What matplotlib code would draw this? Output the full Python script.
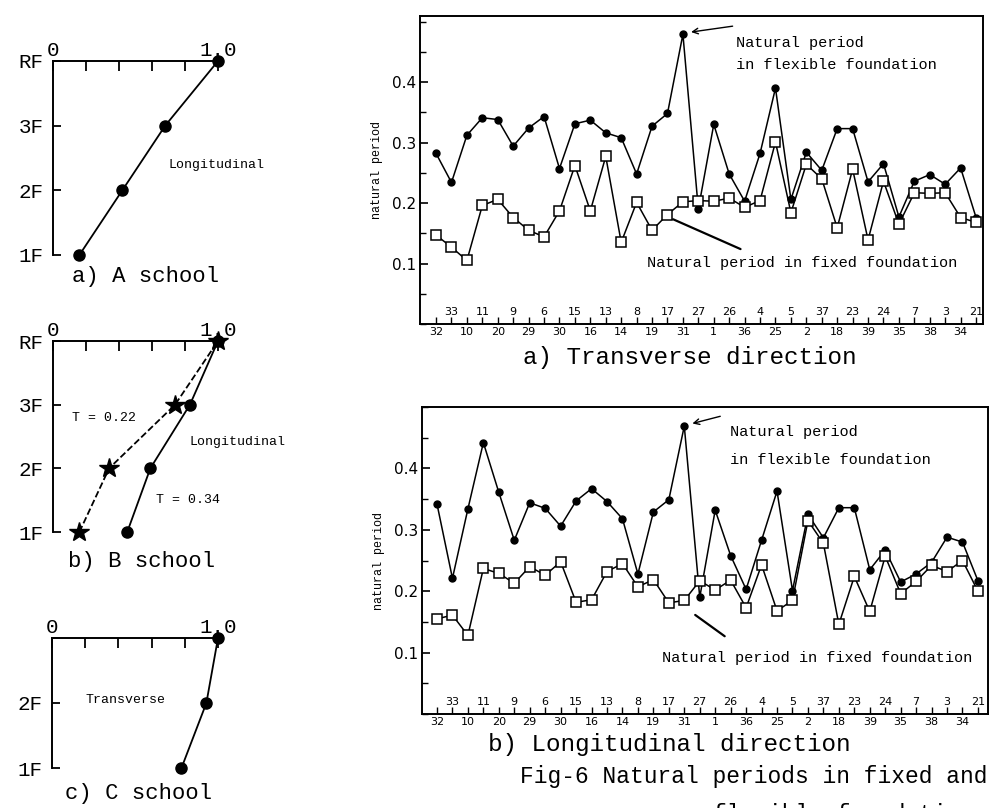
import numpy as np
import matplotlib
matplotlib.use('Agg')
import matplotlib.pyplot as plt
from matplotlib.ticker import MultipleLocator

W, H = 991, 808
MONO = ['Liberation Mono', 'DejaVu Sans Mono']

# ---------------- data ----------------
buildings = ['32', '33', '10', '11', '20', '9', '29', '6', '30', '15', '16', '13',
             '14', '8', '19', '17', '31', '27', '1', '26', '36', '4', '25', '5',
             '2', '37', '18', '23', '39', '24', '35', '7', '38', '3', '34', '21']

trans_flexible = [0.282, 0.234, 0.312, 0.341, 0.338, 0.294, 0.324, 0.343, 0.257,
                  0.331, 0.337, 0.316, 0.308, 0.248, 0.327, 0.348, 0.479, 0.190,
                  0.330, 0.248, 0.203, 0.282, 0.390, 0.206, 0.284, 0.254, 0.323,
                  0.323, 0.235, 0.265, 0.177, 0.236, 0.247, 0.231, 0.258, 0.176]
trans_fixed = [0.147, 0.127, 0.105, 0.196, 0.206, 0.176, 0.155, 0.144, 0.187,
               0.262, 0.187, 0.277, 0.135, 0.201, 0.155, 0.181, 0.202, 0.204,
               0.203, 0.208, 0.193, 0.204, 0.301, 0.184, 0.264, 0.240, 0.159,
               0.256, 0.139, 0.236, 0.165, 0.217, 0.216, 0.217, 0.176, 0.168]

long_flexible = [0.342, 0.221, 0.334, 0.442, 0.361, 0.283, 0.344, 0.335, 0.306,
                 0.347, 0.367, 0.346, 0.318, 0.228, 0.329, 0.349, 0.469, 0.190,
                 0.332, 0.258, 0.203, 0.283, 0.363, 0.201, 0.325, 0.287, 0.336,
                 0.336, 0.235, 0.267, 0.215, 0.228, 0.247, 0.288, 0.280, 0.217]
long_fixed = [0.155, 0.161, 0.128, 0.237, 0.229, 0.213, 0.240, 0.226, 0.248,
              0.182, 0.186, 0.232, 0.245, 0.207, 0.219, 0.181, 0.185, 0.217,
              0.202, 0.218, 0.173, 0.243, 0.168, 0.185, 0.315, 0.278, 0.146,
              0.224, 0.167, 0.257, 0.196, 0.216, 0.242, 0.232, 0.250, 0.200]

floors_4 = [1, 2, 3, 4]
floor_labels_4 = ['1F', '2F', '3F', 'RF']
a_mode = [0.16, 0.42, 0.68, 1.0]
b_mode_flexible = [0.45, 0.59, 0.83, 1.0]
b_mode_fixed = [0.16, 0.34, 0.74, 1.0]
floors_3 = [1, 2, 3]
floor_labels_3 = ['1F', '2F', '']
c_mode = [0.78, 0.93, 1.0]
mode_ticks = [0, 0.2, 0.4, 0.6, 0.8, 1.0]
mode_tick_labels = ['0', '', '', '', '', '1.0']

fig = plt.figure(figsize=(W / 100, H / 100), dpi=100)


def rect(l, t, r, b):
    return [l / W, 1 - b / H, (r - l) / W, (b - t) / H]


def mode_panel(r, levels, labels):
    ax = fig.add_axes(r)
    ax.set_xlim(0, 1)
    ax.set_ylim(levels[0], levels[-1])
    for s in ['right', 'bottom']:
        ax.spines[s].set_visible(False)
    for s in ['left', 'top']:
        ax.spines[s].set_linewidth(1.4)
    ax.xaxis.tick_top()
    ax.set_xticks(mode_ticks)
    ax.set_xticklabels(mode_tick_labels, family=MONO, fontsize=15)
    ax.tick_params(axis='x', direction='in', length=7, width=1.3, pad=1)
    ax.set_yticks(levels)
    ax.set_yticklabels(labels, family=MONO, fontsize=15)
    ax.tick_params(axis='y', direction='in', length=6, width=1.3, pad=7)
    return ax


# a) A school
axa = mode_panel(rect(53, 61, 218, 255), floors_4, floor_labels_4)
axa.plot(a_mode, floors_4, '-o', color='black', lw=1.3, ms=8, clip_on=False)
axa.text(0.70, 2.39, 'Longitudinal', family=MONO, fontsize=9.5, va='center')
fig.text(72 / W, 1 - 276 / H, 'a) A school', family=MONO, fontsize=16, va='center')

# b) B school
axb = mode_panel(rect(53, 341, 218, 532), floors_4, floor_labels_4)
axb.plot(b_mode_fixed, floors_4, '--*', color='black', lw=1.3, ms=15, clip_on=False)
axb.plot(b_mode_flexible, floors_4, '-o', color='black', lw=1.3, ms=8, clip_on=False)
axb.text(0.115, 2.79, 'T = 0.22', family=MONO, fontsize=9.5, va='center')
axb.text(0.825, 2.41, 'Longitudinal', family=MONO, fontsize=9.5, va='center')
axb.text(0.625, 1.50, 'T = 0.34', family=MONO, fontsize=9.5, va='center')
fig.text(68 / W, 1 - 562 / H, 'b) B school', family=MONO, fontsize=16, va='center')

# c) C school
axc = mode_panel(rect(52, 638, 218, 768), floors_3, floor_labels_3)
axc.plot(c_mode, floors_3, '-o', color='black', lw=1.3, ms=8, clip_on=False)
axc.text(0.20, 2.05, 'Transverse', family=MONO, fontsize=9.5, va='center')
fig.text(65 / W, 1 - 793 / H, 'c) C school', family=MONO, fontsize=16, va='center')


def period_chart(r, xlim, ylim, flex, fixed):
    ax = fig.add_axes(r)
    x = np.arange(len(buildings))
    ax.plot(x, flex, '-o', color='black', lw=1.1, ms=5)
    ax.plot(x, fixed, '-s', color='black', mfc='white', mec='black', mew=1.1,
            lw=1.1, ms=7.5)
    ax.set_xlim(*xlim)
    ax.set_ylim(*ylim)
    for s in ax.spines.values():
        s.set_linewidth(1.4)
    ax.set_yticks([0.1, 0.2, 0.3, 0.4])
    ax.set_yticklabels(['0.1', '0.2', '0.3', '0.4'], fontsize=11)
    ax.yaxis.set_minor_locator(MultipleLocator(0.05))
    ax.tick_params(axis='y', which='major', direction='in', length=6, width=1.2, pad=3)
    ax.tick_params(axis='y', which='minor', direction='in', length=4, width=1.0)
    ax.set_xticks(x)
    ax.set_xticklabels([b if i % 2 == 0 else '' for i, b in enumerate(buildings)],
                       fontsize=8)
    ax.tick_params(axis='x', direction='in', length=5, width=1.0, pad=2)
    for i, b in enumerate(buildings):
        if i % 2 == 1:
            ax.text(i, 0.038, b, transform=ax.get_xaxis_transform(),
                    ha='center', va='center', fontsize=8)
    ax.set_ylabel('natural period', family=MONO, fontsize=8.5)
    ax.yaxis.set_label_coords(-0.066, 0.5)
    return ax


# a) Transverse direction
ax1 = period_chart(rect(420, 15.5, 983, 324), (-1.04, 35.45), (0, 0.51),
                   trans_flexible, trans_fixed)
ax1.text(19.44, 0.464, 'Natural period', family=MONO, fontsize=11, va='center')
ax1.text(19.44, 0.428, 'in flexible foundation', family=MONO, fontsize=11, va='center')
ax1.annotate('', xy=(16.35, 0.482), xytext=(19.4, 0.493),
             arrowprops=dict(arrowstyle='->', color='black', lw=1.0))
ax1.text(13.67, 0.101, 'Natural period in fixed foundation', family=MONO,
         fontsize=11, va='center')
ax1.annotate('', xy=(15.2, 0.175), xytext=(19.9, 0.122),
             arrowprops=dict(arrowstyle='-', color='black', lw=1.6))

# b) Longitudinal direction
ax2 = period_chart(rect(422, 407, 988, 714), (-0.97, 35.65), (0, 0.5),
                   long_flexible, long_fixed)
ax2.text(18.95, 0.459, 'Natural period', family=MONO, fontsize=11, va='center')
ax2.text(18.95, 0.414, 'in flexible foundation', family=MONO, fontsize=11, va='center')
ax2.annotate('', xy=(16.35, 0.472), xytext=(18.5, 0.486),
             arrowprops=dict(arrowstyle='->', color='black', lw=1.0))
ax2.text(14.55, 0.091, 'Natural period in fixed foundation', family=MONO,
         fontsize=11, va='center')
ax2.annotate('', xy=(16.56, 0.164), xytext=(18.76, 0.124),
             arrowprops=dict(arrowstyle='-', color='black', lw=1.6))

fig.text(523 / W, 1 - 358 / H, 'a) Transverse direction', family=MONO,
         fontsize=17.5, va='center')
fig.text(488 / W, 1 - 745 / H, 'b) Longitudinal direction', family=MONO,
         fontsize=17.5, va='center')
fig.text(988 / W, 1 - 777 / H, 'Fig-6 Natural periods in fixed and', family=MONO,
         fontsize=16.5, va='center', ha='right')
fig.text(988 / W, 1 - 803 / H, 'flexible foundations', family=MONO,
         fontsize=16.5, va='top', ha='right')

fig.savefig('out.png', dpi=100)
